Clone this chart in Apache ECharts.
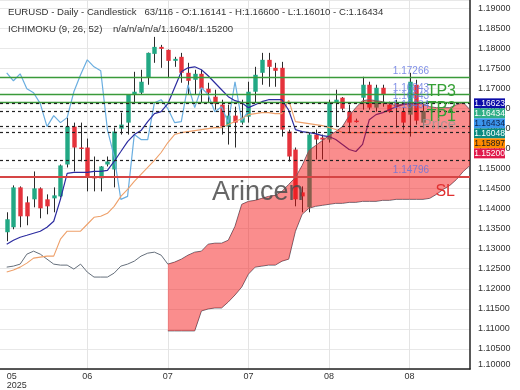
<!DOCTYPE html>
<html><head><meta charset="utf-8">
<script src="https://cdn.jsdelivr.net/npm/echarts@6/dist/echarts.min.js"></script>
<style>html,body{margin:0;padding:0;background:#fff}#c{width:520px;height:390px}</style>
</head><body><div id="c"></div>
<script>
// ---- data ----
const candleOpen = [1.13410,1.13534,1.14528,1.14155,1.14230,1.14503,1.14230,1.14255,1.14304,1.15099,1.16044,1.15522,1.15522,1.14801,1.14752,1.15099,1.14975,1.15994,1.16143,1.16839,1.16888,1.17261,1.17857,1.18031,1.17957,1.17683,1.17783,1.17385,1.17211,1.17360,1.16988,1.16789,1.16590,1.16044,1.16317,1.16143,1.16292,1.16913,1.17385,1.17708,1.17509,1.17509,1.15919,1.15472,1.14404,1.14031,1.15845,1.15770,1.15721,1.16640,1.16764,1.16416,1.16193,1.16764,1.17087,1.16516,1.17012,1.16590,1.16640,1.16416,1.16342,1.17087,1.16141];
const candleClose = [1.13733,1.14528,1.13807,1.13807,1.14503,1.14006,1.14056,1.14329,1.15075,1.16044,1.15522,1.15497,1.14801,1.14752,1.15050,1.15174,1.15919,1.16093,1.16839,1.16913,1.17162,1.17882,1.18031,1.17981,1.17683,1.17733,1.17385,1.17186,1.17360,1.16988,1.16888,1.16615,1.16044,1.16317,1.16143,1.16267,1.16913,1.17335,1.17708,1.17534,1.17435,1.15969,1.15298,1.14230,1.14304,1.15845,1.15721,1.15721,1.16640,1.16714,1.16491,1.16143,1.16168,1.17087,1.16516,1.17012,1.16839,1.16416,1.16540,1.16143,1.17162,1.16193,1.16434];
const candleLow = [1.13186,1.13484,1.13534,1.13584,1.14031,1.13758,1.13857,1.13907,1.14280,1.15025,1.14925,1.15174,1.14429,1.14429,1.14429,1.15050,1.14528,1.15845,1.15845,1.16640,1.16839,1.17087,1.17634,1.17509,1.17261,1.17534,1.17137,1.16839,1.16839,1.16640,1.16640,1.16466,1.15845,1.15596,1.15522,1.16093,1.16143,1.16640,1.17087,1.17037,1.17037,1.15795,1.15174,1.14056,1.13907,1.13907,1.15224,1.15224,1.15646,1.16044,1.16441,1.15894,1.16143,1.16466,1.16466,1.16416,1.16540,1.16391,1.16019,1.15969,1.15795,1.16093,1.16010];
const candleHigh = [1.13907,1.14578,1.14553,1.14304,1.14925,1.14528,1.14354,1.14528,1.15099,1.16267,1.16143,1.16143,1.15745,1.15298,1.15060,1.15298,1.16019,1.16391,1.16850,1.17410,1.17460,1.17890,1.18280,1.18081,1.17965,1.17783,1.17882,1.17634,1.17460,1.17460,1.17137,1.16963,1.16714,1.16590,1.16540,1.16714,1.17162,1.17534,1.17882,1.17882,1.17634,1.17658,1.15969,1.15522,1.14553,1.15894,1.15969,1.15845,1.16714,1.16963,1.16780,1.16590,1.16242,1.17286,1.17162,1.17087,1.17087,1.16665,1.16714,1.16516,1.17385,1.17211,1.16600];
const tenkan = [1.13112,1.13211,1.13286,1.13335,1.13385,1.13435,1.13534,1.13683,1.14230,1.14876,1.14901,1.14901,1.14901,1.14925,1.14925,1.14950,1.15174,1.15422,1.15671,1.15845,1.15944,1.16168,1.16367,1.16416,1.16615,1.17012,1.17410,1.17509,1.17534,1.17460,1.17311,1.17137,1.16963,1.16789,1.16690,1.16640,1.16516,1.16590,1.16665,1.16714,1.16714,1.16714,1.16450,1.15969,1.15919,1.15894,1.15870,1.15820,1.15795,1.15721,1.15596,1.15472,1.15422,1.15600,1.16217,1.16342,1.16391,1.16466,1.16540,1.16590,1.16615,1.16615,1.16623];
const kijun = [1.12416,1.12466,1.12540,1.12640,1.12764,1.12789,1.12814,1.12814,1.13236,1.13435,1.13435,1.13435,1.13609,1.13783,1.13807,1.13882,1.14056,1.14304,1.14478,1.14677,1.14851,1.15025,1.15199,1.15398,1.15646,1.15845,1.15894,1.15919,1.15944,1.15969,1.15994,1.16019,1.16019,1.16093,1.16168,1.16242,1.16342,1.16367,1.16391,1.16391,1.16367,1.16367,1.16700,1.16168,1.16143,1.16118,1.16093,1.16068,1.16019,1.15969,1.15894,1.15894,1.15894,1.15894,1.15894,1.15894,1.15894,1.15894,1.15894,1.15894,1.15894,1.15897,1.15897];
const chikou = [1.17385,1.17186,1.17360,1.16988,1.16888,1.16615,1.16044,1.16317,1.16143,1.16267,1.16913,1.17335,1.17708,1.17534,1.17435,1.15969,1.15298,1.14230,1.14304,1.15845,1.15721,1.15721,1.16640,1.16714,1.16491,1.16143,1.16168,1.17087,1.16516,1.17012,1.16839,1.16416,1.16540,1.16143,1.17162,1.16193,1.16434];
// senkou span A from slot 0 to slot 69 (cloud upper edge from slot 24)
const senkouA = [1.12540,1.12565,1.12615,1.12863,1.12938,1.12863,1.12739,1.12615,1.12590,1.12590,1.12491,1.12615,1.12416,1.12292,1.12292,1.12292,1.12391,1.12565,1.12615,1.12689,1.12814,1.12888,1.12913,1.12838,
  1.12615,1.12665,1.12739,1.12838,1.12913,1.12938,1.13112,1.13137,1.13137,1.13211,1.13559,1.14106,1.14180,1.14205,1.14255,1.14304,1.14329,1.14429,1.14603,1.14776,1.15075,1.15447,1.15571,1.15696,1.15820,1.15919,1.16044,1.16317,1.16516,1.16690,1.16714,1.16690,1.16665,1.16615,1.16565,1.16615,1.16640,1.16640,1.16615,1.16540,1.16516,1.16516,1.16516,1.16590,1.16640,1.16466];
// senkou span B from slot 24 to slot 69 (cloud lower edge)
const senkouBStart = 24;
const senkouB = [1.10950,1.10950,1.10950,1.10950,1.10950,1.11447,1.11497,1.11522,1.11522,1.11671,1.11845,1.12043,1.12366,1.12540,1.12565,1.12590,1.12590,1.12689,1.12739,1.13435,1.13857,1.14006,1.14056,1.14081,1.14106,1.14130,1.14130,1.14155,1.14155,1.14180,1.14180,1.14180,1.14205,1.14205,1.14230,1.14230,1.14230,1.14230,1.14230,1.14255,1.14354,1.14478,1.14578,1.14727,1.14925,1.15075];
const tickIndex = [0,12,24,36,48,60];
const tickLabels = ['05\n2025','06','07','07','08','08'];
const slotCount = 70;
const targets = [
  {name:'TP3', value:1.17266}, {name:'TP2', value:1.16843}, {name:'TP1', value:1.16643},
  {name:'Price', value:1.16434}, {name:'SL', value:1.14796}
];
const refLevels = [1.16623, 1.16434, 1.16048, 1.15897, 1.15200];
const badgeValues = ['1.16623','1.16434','1.16434','1.16048','1.15897','1.15200'];
const badgeColors = ['#0b0ba8','#2fae86','#3b95ec','#0b8a80','#ff8a00','#e0184a'];
const badgeText = ['#ffffff','#ffffff','#10204a','#ffffff','#1a1a1a','#ffffff'];
const header1 = 'EURUSD - Daily - Candlestick   63/116 - O:1.16141 - H:1.16600 - L:1.16010 - C:1.16434';
const header2 = 'ICHIMOKU (9, 26, 52)    n/a/n/a/n/a/1.16048/1.15200';

// ---- build ----
const N = slotCount + 1; // one padding slot on the left
const categories = [];
for (let i = 0; i < N; i++) categories.push('');
tickIndex.forEach((t, k) => { categories[t + 1] = k === 0 ? {value: tickLabels[k], textStyle: {align: 'left'}} : tickLabels[k]; });
const tickSet = new Set(tickIndex.map(t => t + 1));
function place(arr, start) { const out = new Array(N).fill(null); arr.forEach((v, k) => { out[k + start + 1] = v; }); return out; }
const candleData = candleOpen.map((o, k) => [k + 1, o, candleClose[k], candleLow[k], candleHigh[k]]);
const cloudBase = place(senkouB, senkouBStart);
const cloudBand = place(senkouB.map((b, k) => +(senkouA[k + senkouBStart] - b).toFixed(5)), senkouBStart);
const FONT = '"Liberation Sans", Arial, sans-serif';
const UP = '#22a884', DOWN = '#e5323b';

function renderCandle(params, api) {
  const x = api.value(0), o = api.value(1), c = api.value(2), l = api.value(3), h = api.value(4);
  const pO = api.coord([x, o]), pC = api.coord([x, c]), pL = api.coord([x, l]), pH = api.coord([x, h]);
  const w = api.size([1, 0])[0] * 0.66;
  const top = Math.min(pO[1], pC[1]), bot = Math.max(pO[1], pC[1]);
  const xc = Math.round(pO[0]) + 0.5;
  return {type: 'group', children: [
    {type: 'line', shape: {x1: xc, y1: pH[1], x2: xc, y2: pL[1]}, style: {stroke: '#2a2a2a', lineWidth: 1}},
    {type: 'rect', shape: {x: xc - w / 2, y: top, width: w, height: Math.max(bot - top, 1.5)}, style: {fill: c >= o ? UP : DOWN}}
  ]};
}

const markData = [];
targets.forEach(t => {
  const isSL = t.name === 'SL', isPrice = t.name === 'Price';
  const lineStyle = isSL ? {color: '#d64545', width: 2, type: 'solid'}
    : isPrice ? {color: '#222', width: 1.2, type: [3, 3]}
    : {color: '#3a9a3a', width: 1.3, type: 'solid'};
  markData.push({yAxis: t.value, lineStyle: lineStyle, label: {show: true, position: 'insideEndBottom', formatter: t.name,
    color: isSL ? '#e03030' : isPrice ? 'rgba(150,150,150,0.75)' : '#35a035', fontSize: isPrice ? 15 : 16,
    fontFamily: FONT, padding: [0, 8, 0, 0], distance: isSL ? 7 : 6}});
  markData.push({yAxis: t.value, lineStyle: {color: 'rgba(0,0,0,0)', width: 0}, label: {show: true, position: 'insideEndTop', formatter: t.value.toFixed(5),
    color: 'rgba(95,115,225,0.8)', fontSize: 10, fontFamily: FONT, padding: [0, 40, 0, 0], distance: 1}});
});
refLevels.forEach(v => markData.push({yAxis: v, lineStyle: {color: '#222', width: 1.2, type: [3, 3]}, label: {show: false}}));

const chart = echarts.init(document.getElementById('c'), null, {renderer: 'canvas'});
chart.setOption({
  animation: false,
  backgroundColor: '#fff',
  grid: {left: 470 - slotCount * 6.77, right: 50, top: 0, bottom: 20},
  xAxis: {
    type: 'category', data: categories, boundaryGap: false,
    axisLine: {lineStyle: {color: '#222', width: 1.5}}, axisTick: {show: false},
    axisLabel: {interval: (i) => tickSet.has(i), fontSize: 9, color: '#333', fontFamily: FONT, margin: 3, lineHeight: 9},
    splitLine: {show: true, interval: (i) => tickSet.has(i) && i > 1, lineStyle: {color: '#e4e4e4', width: 1}}
  },
  yAxis: {
    type: 'value', position: 'right', min: 1.10, max: 1.192, interval: 0.005, scale: true,
    axisLine: {show: true, lineStyle: {color: '#222', width: 1.5}}, axisTick: {show: false},
    axisLabel: {fontSize: 9, color: '#333', fontFamily: FONT, margin: 8, formatter: v => v.toFixed(5),
      showMaxLabel: false, verticalAlignMinLabel: 'bottom'},
    splitLine: {show: true, lineStyle: {color: '#e8e8e8', width: 1}}
  },
  series: [
    {type: 'custom', name: 'candles', renderItem: renderCandle, data: candleData, encode: {x: 0, y: [1, 2, 3, 4]}, z: 2, silent: true},
    {type: 'line', name: 'chikou', data: place(chikou, 0), showSymbol: false, lineStyle: {color: '#6aaee0', width: 1.2}, z: 3, silent: true},
    {type: 'line', name: 'senkouA', data: place(senkouA, 0), showSymbol: false, lineStyle: {color: '#66707c', width: 1}, z: 3, silent: true},
    {type: 'line', name: 'senkouB', data: place(senkouB, senkouBStart), showSymbol: false, lineStyle: {color: '#66707c', width: 1}, z: 3, silent: true},
    {type: 'line', name: 'kijun', data: place(kijun, 0), showSymbol: false, lineStyle: {color: '#eea06a', width: 1.1}, z: 3, silent: true},
    {type: 'line', name: 'tenkan', data: place(tenkan, 0), showSymbol: false, lineStyle: {color: '#2c2ca0', width: 1.2}, z: 3, silent: true},
    {type: 'line', name: 'cloudBase', data: cloudBase, stack: 'cloud', showSymbol: false, lineStyle: {opacity: 0}, z: 4, silent: true},
    {type: 'line', name: 'cloud', data: cloudBand, stack: 'cloud', showSymbol: false, lineStyle: {opacity: 0},
      areaStyle: {color: 'rgba(245,15,15,0.68)'}, z: 4, silent: true},
    {type: 'line', name: 'levels', data: [], z: 6, silent: true,
      markLine: {symbol: 'none', silent: true, animation: false, precision: 5, data: markData}}
  ]
});

const yTop = chart.convertToPixel({yAxisIndex: 0}, 1.16623);
const badges = [];
badgeValues.forEach((t, k) => {
  const cy = yTop + k * 10;
  badges.push({type: 'rect', z: 50, shape: {x: 474, y: cy - 5, width: 31, height: 10}, style: {fill: badgeColors[k]}});
  badges.push({type: 'text', z: 51, x: 489.5, y: cy, style: {text: t, fill: badgeText[k], font: '8.5px ' + FONT, textAlign: 'center', textVerticalAlign: 'middle'}});
});
chart.setOption({graphic: [
  {type: 'text', z: 40, x: 8, y: 12, style: {text: header1, fill: '#333', font: '9.6px ' + FONT, textVerticalAlign: 'middle'}},
  {type: 'text', z: 40, x: 8, y: 29, style: {text: header2, fill: '#333', font: '9.6px ' + FONT, textVerticalAlign: 'middle'}},
  {type: 'text', z: 5, x: 212, y: 193, style: {text: 'Arincen', fill: 'rgba(75,75,75,0.85)', font: '27px ' + FONT, textVerticalAlign: 'middle'}},
  ...badges
]});
</script></body></html>
